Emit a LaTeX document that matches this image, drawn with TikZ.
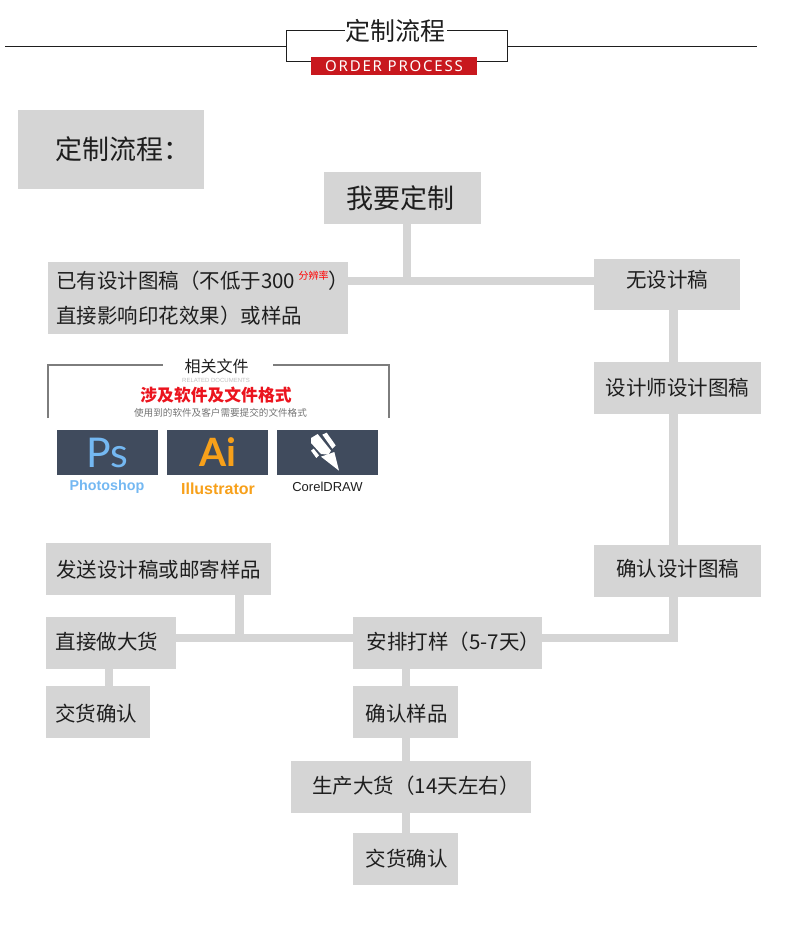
\documentclass[tikz,border=0pt]{standalone}
\usepackage{fontspec}
\setmainfont{Noto Sans CJK SC}
\newfontfamily\latinfont{Liberation Sans}
\newfontfamily\logofont{Lato}
\newfontfamily\orderfont[LetterSpace=12]{Noto Sans}
\usepackage{tikz}
\usetikzlibrary{calc,positioning}
\definecolor{BoxGray}{RGB}{213,213,213}
\definecolor{InkBlack}{RGB}{30,30,30}
\definecolor{OrderRed}{RGB}{200,24,30}
\definecolor{FrameGray}{RGB}{125,125,125}
\definecolor{LogoSlate}{RGB}{64,75,93}
\definecolor{PsBlue}{RGB}{116,184,242}
\definecolor{AiOrange}{RGB}{247,160,26}
\definecolor{TitleRed}{RGB}{235,20,30}
\tikzset{
  stepbox/.style={fill=BoxGray,text=InkBlack,inner sep=0pt,outer sep=0pt,
    font=\fontsize{20.5}{24}\selectfont},
  textat/.style 2 args={text height={10pt+#2},text depth={10pt-#2},
    execute at begin node={\hspace*{#1}}},
  link/.style={draw=BoxGray,line width=8.5pt},
  logobox/.style={fill=LogoSlate,inner sep=0pt,outer sep=0pt,
    minimum width=101pt,minimum height=45pt},
  logoname/.style={inner sep=0pt,font=\latinfont\bfseries\fontsize{15}{18}\selectfont}
}
\begin{document}
\begin{tikzpicture}[x=1pt,y=-1pt]
  \useasboundingbox (0,0) rectangle (790,939);
  \node[draw=InkBlack,line width=1pt,minimum width=221pt,minimum height=31pt,inner sep=0pt,outer sep=0pt]
    (hdrframe) at (396.5,46.5) {};
  \coordinate (hdrleft) at (5,46.5);
  \coordinate (hdrright) at (757,46.5);
  \draw[InkBlack,line width=1.2pt] (hdrleft)--(hdrframe.west);
  \draw[InkBlack,line width=1.2pt] (hdrframe.east)--(hdrright);
  \node[fill=white,inner sep=1pt,text=InkBlack,font=\fontsize{25}{28}\selectfont]
    (hdrtitle) at (395.5,31) {定制流程};
  \node[fill=OrderRed,text=white,inner sep=0pt,minimum width=166pt,minimum height=18pt,
    font=\orderfont\fontsize{15}{16}\selectfont] (hdrorder) at (394,66) {ORDER PROCESS};

  \node[stepbox,minimum width=186pt,minimum height=79pt,font=\fontsize{27}{30}\selectfont]
    (flowtitle) at (111,149.5) {\hspace*{23pt}定制流程：};
  \node[stepbox,minimum width=157pt,minimum height=52pt,font=\fontsize{27}{32}\selectfont]
    (want) at (402.5,198) {\hspace*{-5pt}我要定制};
  \node[stepbox,minimum width=300pt,minimum height=72pt,text width=284pt,align=left]
    (hasfile) at (198,298) {已有设计图稿（不低于300\,\raisebox{9pt}[0pt][0pt]{\textcolor{red}{\fontsize{10}{12}\selectfont 分辨率}}）\\[11pt]直接影响印花效果）或样品};
  \node[stepbox,minimum width=146pt,minimum height=51pt,textat={0pt}{2.7pt}] (nofile) at (667,284.5) {无设计稿};
  \node[stepbox,minimum width=167pt,minimum height=52pt] (designer) at (677.5,388) {设计师设计图稿};
  \node[stepbox,minimum width=167pt,minimum height=52pt,textat={0pt}{5.7pt}] (confirmdraft) at (677.5,571) {确认设计图稿};
  \node[stepbox,minimum width=225pt,minimum height=52pt,textat={0pt}{8.7pt}] (sendfile) at (158.5,569) {发送设计稿或邮寄样品};
  \node[stepbox,minimum width=130pt,minimum height=52pt,textat={-8pt}{6.7pt}] (direct) at (111,643) {直接做大货};
  \node[stepbox,minimum width=104pt,minimum height=52pt,textat={-4pt}{9.7pt}] (deliverleft) at (98,712) {交货确认};
  \node[stepbox,minimum width=189pt,minimum height=52pt,textat={12pt}{6.7pt}] (sample) at (447.5,643) {安排打样（5-7天）};
  \node[stepbox,minimum width=105pt,minimum height=52pt,textat={2pt}{9.7pt}] (confirmsample) at (405.5,712) {确认样品};
  \node[stepbox,minimum width=240pt,minimum height=52pt,textat={10pt}{6.7pt}] (produce) at (411,787) {生产大货（14天左右）};
  \node[stepbox,minimum width=105pt,minimum height=52pt,textat={2pt}{7.7pt}] (deliver) at (405.5,859) {交货确认};

  \coordinate (topjoin) at (407,281);
  \coordinate (rightjoin) at (673.5,638);
  \coordinate (leftjoin) at (239.5,638);
  \coordinate (leftdrop) at (109,690);
  \coordinate (middrop) at (406,690);
  \draw[link] (topjoin |- want.south)--(topjoin);
  \draw[link] (topjoin -| hasfile.east)--(topjoin -| nofile.west);
  \draw[link] (rightjoin |- nofile.south)--(rightjoin |- designer.north);
  \draw[link] (rightjoin |- designer.south)--(rightjoin |- confirmdraft.north);
  \draw[link,line cap=rect] (rightjoin |- confirmdraft.south)--(rightjoin)--(rightjoin -| sample.east);
  \draw[link] (leftjoin |- sendfile.south)--(leftjoin);
  \draw[link] (rightjoin -| direct.east)--(rightjoin -| sample.west);
  \draw[link] (leftdrop |- direct.south)--(leftdrop |- deliverleft.north);
  \draw[link] (middrop |- sample.south)--(middrop |- confirmsample.north);
  \draw[link] (middrop |- confirmsample.south)--(middrop |- produce.north);
  \draw[link] (middrop |- produce.south)--(middrop |- deliver.north);

  \coordinate (frameleft) at (48,418);
  \coordinate (frameright) at (389,418);
  \node[inner sep=0pt,text=InkBlack,font=\fontsize{16}{18}\selectfont] (relhead) at (216.5,366) {相关文件};
  \draw[FrameGray,line width=1.4pt] (frameleft)--(48,365)--(163,365);
  \draw[FrameGray,line width=1.4pt] (frameright)--(389,365)--(273,365);
  \node[inner sep=0pt,text=black!25,font=\latinfont\fontsize{6}{7}\selectfont] (relsub) at (216,380) {RELATED DOCUMENTS};
  \node[inner sep=0pt,text=TitleRed,font=\bfseries\fontsize{16.8}{19}\selectfont] (relred) at (216,395) {涉及软件及文件格式};
  \node[inner sep=0pt,text=black!55,font=\fontsize{9.6}{12}\selectfont] (relnote) at (220.5,413) {使用到的软件及客户需要提交的文件格式};

  \node[logobox,text=PsBlue,font=\logofont\fontsize{41}{42}\selectfont] (pslogo) at (107.5,452.5) {Ps};
  \node[logobox,text=AiOrange,font=\logofont\bfseries\fontsize{39}{40}\selectfont] (ailogo) at (217.5,452.5) {Ai};
  \node[logobox] (cdrlogo) at (327.5,452.5) {};
  \begin{scope}[shift={(275,428)},x=0.3333pt,y=-0.3333pt]
    \fill[white] (108,30)--(128,18)--(168,68)--(160,80)--(138,78)--(108,45)--cycle;
    \fill[white] (142,20)--(155,14)--(182,52)--(172,62)--cycle;
    \fill[white] (108,68)--(116,62)--(132,82)--(124,90)--cycle;
    \fill[white] (138,86)--(178,72)--(192,128)--cycle;
  \end{scope}
  \node[logoname,text=PsBlue,font=\latinfont\bfseries\fontsize{14.3}{18}\selectfont] (psname) at (107,487) {Photoshop};
  \node[logoname,text=AiOrange,font=\latinfont\bfseries\fontsize{16}{18}\selectfont] (ainame) at (218,489) {Illustrator};
  \node[logoname,text=InkBlack,font=\latinfont\fontsize{13}{15}\selectfont] (cdrname) at (327.5,487) {CorelDRAW};
\end{tikzpicture}
\end{document}
